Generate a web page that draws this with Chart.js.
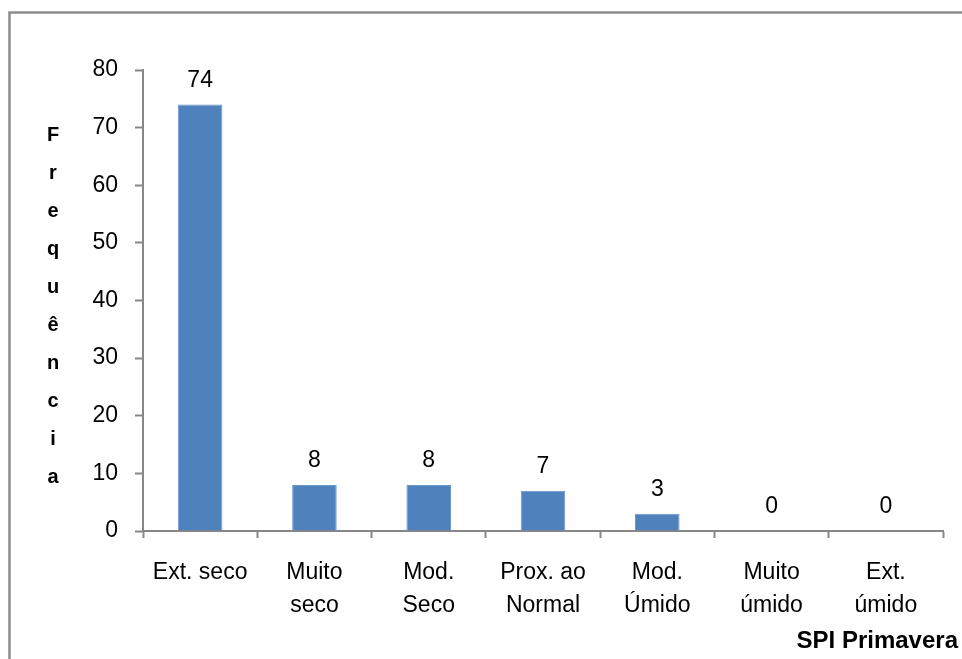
<!DOCTYPE html>
<html>
<head>
<meta charset="utf-8">
<script src="https://cdn.jsdelivr.net/npm/chart.js@4"></script>
<style>
  html, body { margin: 0; padding: 0; background: #ffffff; }
  #wrap { width: 962px; height: 659px; position: relative; }
</style>
</head>
<body>
<div id="wrap"><canvas id="chart" width="962" height="659"></canvas></div>
<script>
// Frequência de classes do SPI na primavera
const categories = [
  ['Ext. seco'],
  ['Muito', 'seco'],
  ['Mod.', 'Seco'],
  ['Prox. ao', 'Normal'],
  ['Mod.', 'Úmido'],
  ['Muito', 'úmido'],
  ['Ext.', 'úmido']
];
const frequencies = [74, 8, 8, 7, 3, 0, 0];
const yTicks = [0, 10, 20, 30, 40, 50, 60, 70, 80];
const yTitle = 'Frequência';
const xTitle = 'SPI Primavera';

const FONT = '"Liberation Sans", Arial, sans-serif';
const AXIS_GRAY = '#878787';

// Moldura cinza em volta do gráfico
const framePlugin = {
  id: 'frame',
  beforeDraw(chart) {
    const ctx = chart.ctx;
    ctx.save();
    ctx.fillStyle = '#ffffff';
    ctx.fillRect(0, 0, chart.width, chart.height);
    ctx.strokeStyle = '#8c8c8c';
    ctx.lineWidth = 2.5;
    ctx.strokeRect(9.5, 12.5, chart.width + 20, chart.height + 20);
    ctx.restore();
  }
};

// Valores acima das barras
const valueLabels = {
  id: 'valueLabels',
  afterDatasetsDraw(chart) {
    const ctx = chart.ctx;
    const meta = chart.getDatasetMeta(0);
    ctx.save();
    ctx.font = '23px ' + FONT;
    ctx.fillStyle = '#000000';
    ctx.textAlign = 'center';
    ctx.textBaseline = 'alphabetic';
    meta.data.forEach((bar, i) => {
      ctx.fillText(String(frequencies[i]), bar.x, bar.y - 18);
    });
    ctx.restore();
  }
};

// Títulos dos eixos: letras empilhadas no eixo Y, título à direita no eixo X
const axisTitles = {
  id: 'axisTitles',
  afterDraw(chart) {
    const ctx = chart.ctx;
    ctx.save();
    ctx.fillStyle = '#000000';
    ctx.font = 'bold 20px ' + FONT;
    ctx.textAlign = 'center';
    ctx.textBaseline = 'alphabetic';
    Array.from(yTitle).forEach((ch, i) => {
      ctx.fillText(ch, 53, 141 + 38 * i);
    });
    ctx.font = 'bold 24px ' + FONT;
    ctx.textAlign = 'right';
    ctx.fillText(xTitle, 958, 648);
    ctx.restore();
  }
};

new Chart(document.getElementById('chart'), {
  type: 'bar',
  data: {
    labels: categories,
    datasets: [{
      data: frequencies,
      backgroundColor: '#4F81BD',
      borderColor: '#6d98cc',
      borderWidth: 1,
      barPercentage: 0.39,
      categoryPercentage: 1.0
    }]
  },
  options: {
    responsive: false,
    animation: false,
    devicePixelRatio: 1,
    layout: { padding: { top: 70, right: 19, bottom: 0, left: 0 } },
    plugins: {
      legend: { display: false },
      tooltip: { enabled: false }
    },
    scales: {
      x: {
        offset: true,
        grid: {
          offset: true,
          drawOnChartArea: false,
          drawTicks: true,
          tickLength: 7,
          tickColor: AXIS_GRAY,
          tickWidth: 2
        },
        border: { color: AXIS_GRAY, width: 2 },
        ticks: {
          color: '#000000',
          font: { family: FONT, size: 23, lineHeight: 1.435 },
          padding: 18,
          maxRotation: 0,
          autoSkip: false
        },
        afterFit(scale) { scale.height = 128; }
      },
      y: {
        min: 0,
        max: 80,
        afterBuildTicks(scale) { scale.ticks = yTicks.map(v => ({ value: v })); },
        grid: {
          drawOnChartArea: false,
          drawTicks: true,
          tickLength: 8,
          tickColor: AXIS_GRAY,
          tickWidth: 2
        },
        border: { color: AXIS_GRAY, width: 2 },
        ticks: {
          color: '#000000',
          font: { family: FONT, size: 23 },
          padding: 17
        },
        afterFit(scale) { scale.width = 143; }
      }
    }
  },
  plugins: [framePlugin, valueLabels, axisTitles]
});
</script>
</body>
</html>
